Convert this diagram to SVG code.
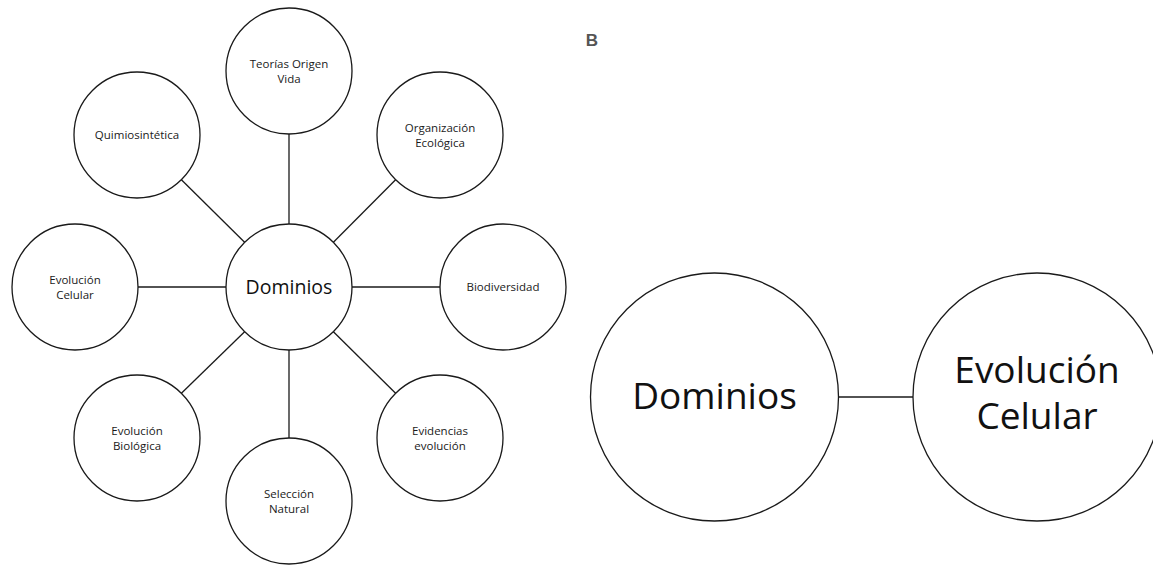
<svg xmlns="http://www.w3.org/2000/svg" width="1153" height="565" viewBox="0 0 1153 565">
  <style>
    .node { fill: #ffffff; stroke: #1a1a1a; stroke-width: 1.3; }
    .link { stroke: #1a1a1a; stroke-width: 1.3; fill: none; }
    .lbl { font-family: "Open Sans", "Liberation Sans", sans-serif; font-size: 11.5px; fill: #1a1a1a; text-anchor: middle; }
    .hub { font-family: "Open Sans", "Liberation Sans", sans-serif; font-size: 19.5px; fill: #111; text-anchor: middle; }
    .big { font-family: "Open Sans", "Liberation Sans", sans-serif; font-size: 37px; fill: #111; text-anchor: middle; }
  </style>
  <rect width="1153" height="565" fill="#ffffff"/>

  <!-- connectors -->
  <g id="connectors">
    <line class="link" x1="289" y1="224" x2="289" y2="134"/>
    <line class="link" x1="333.4" y1="242.3" x2="395.6" y2="179.7"/>
    <line class="link" x1="352" y1="287" x2="440" y2="287"/>
    <line class="link" x1="333.4" y1="331.7" x2="395.6" y2="393.3"/>
    <line class="link" x1="289" y1="350" x2="289" y2="438"/>
    <line class="link" x1="244.6" y1="331.7" x2="181.4" y2="393.3"/>
    <line class="link" x1="226" y1="287" x2="138" y2="287"/>
    <line class="link" x1="244.6" y1="242.3" x2="181.4" y2="179.7"/>
    <line class="link" x1="838.5" y1="397" x2="913" y2="397"/>
  </g>

  <!-- radial map -->
  <g id="n-dominios">
    <circle class="node" cx="289" cy="287" r="63"/>
    <text class="hub" x="289" y="294">Dominios</text>
  </g>
  <g id="n-teorias">
    <circle class="node" cx="289" cy="71" r="63"/>
    <text class="lbl" x="289" y="68">Teorías Origen</text>
    <text class="lbl" x="289" y="83">Vida</text>
  </g>
  <g id="n-organizacion">
    <circle class="node" cx="440" cy="135" r="63"/>
    <text class="lbl" x="440" y="132">Organización</text>
    <text class="lbl" x="440" y="147">Ecológica</text>
  </g>
  <g id="n-biodiversidad">
    <circle class="node" cx="503" cy="287" r="63"/>
    <text class="lbl" x="503" y="291">Biodiversidad</text>
  </g>
  <g id="n-evidencias">
    <circle class="node" cx="440" cy="438" r="63"/>
    <text class="lbl" x="440" y="435">Evidencias</text>
    <text class="lbl" x="440" y="450">evolución</text>
  </g>
  <g id="n-seleccion">
    <circle class="node" cx="289" cy="501" r="63"/>
    <text class="lbl" x="289" y="498">Selección</text>
    <text class="lbl" x="289" y="513">Natural</text>
  </g>
  <g id="n-evol-biologica">
    <circle class="node" cx="137" cy="438" r="63"/>
    <text class="lbl" x="137" y="435">Evolución</text>
    <text class="lbl" x="137" y="450">Biológica</text>
  </g>
  <g id="n-evol-celular">
    <circle class="node" cx="75" cy="287" r="63"/>
    <text class="lbl" x="75" y="284">Evolución</text>
    <text class="lbl" x="75" y="299">Celular</text>
  </g>
  <g id="n-quimiosintetica">
    <circle class="node" cx="137" cy="135" r="63"/>
    <text class="lbl" x="137" y="139">Quimiosintética</text>
  </g>

  <!-- panel B -->
  <text x="592" y="46" font-family="'Liberation Sans', sans-serif" font-size="17" font-weight="bold" fill="#555" text-anchor="middle">B</text>
  <g id="b-dominios">
    <circle class="node" cx="714.5" cy="397" r="124"/>
    <text class="big" x="714.5" y="409" font-size="38.5">Dominios</text>
  </g>
  <g id="b-evol-celular">
    <circle class="node" cx="1037" cy="397" r="124"/>
    <text class="big" x="1037" y="383">Evolución</text>
    <text class="big" x="1037" y="429">Celular</text>
  </g>
</svg>
